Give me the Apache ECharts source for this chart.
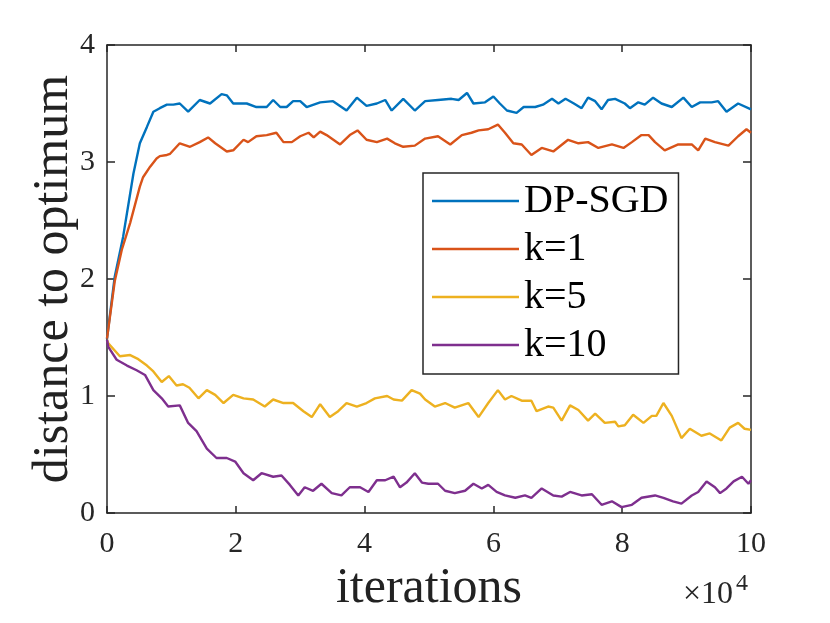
<!DOCTYPE html>
<html>
<head>
<meta charset="utf8"></meta>
<script src="https://cdn.jsdelivr.net/npm/echarts/dist/echarts.min.js"></script>
<style>
  body { margin: 0; background: #fff; }
  #main { width: 830px; height: 623px; }
</style>
</head>
<body>
<div id="main"></div>
<script type="text/javascript">
    // x is in units of 1e4 iterations, y is distance to optimum
    var seriesNames = ['DP-SGD', 'k=1', 'k=5', 'k=10'];
    var xTicks = [0, 2, 4, 6, 8, 10];
    var yTicks = [0, 1, 2, 3, 4];

    var dpsgd = [[0,1.49],[0.12,2.02],[0.25,2.36],[0.41,2.90],[0.51,3.16],[0.62,3.30],[0.72,3.43],[0.82,3.46],[0.93,3.49],[1.03,3.49],
        [1.13,3.50],[1.26,3.43],[1.44,3.53],[1.60,3.50],[1.78,3.58],[1.86,3.57],[1.96,3.50],[2.17,3.50],[2.32,3.47],[2.48,3.47],
        [2.58,3.53],[2.69,3.47],[2.79,3.47],[2.89,3.52],[3.0,3.52],[3.10,3.47],[3.31,3.51],[3.51,3.52],[3.72,3.44],[3.88,3.55],
        [4.03,3.48],[4.19,3.50],[4.32,3.53],[4.42,3.44],[4.60,3.54],[4.78,3.44],[4.94,3.52],[5.14,3.53],[5.35,3.54],[5.46,3.53],
        [5.59,3.59],[5.69,3.50],[5.87,3.51],[6.0,3.56],[6.10,3.50],[6.21,3.44],[6.36,3.42],[6.47,3.47],[6.65,3.47],[6.77,3.49],
        [6.91,3.54],[7.01,3.50],[7.12,3.54],[7.25,3.50],[7.37,3.46],[7.47,3.55],[7.58,3.52],[7.68,3.45],[7.78,3.53],[7.89,3.54],
        [8.04,3.50],[8.12,3.46],[8.25,3.51],[8.35,3.49],[8.48,3.55],[8.61,3.50],[8.77,3.47],[8.95,3.55],[9.08,3.47],[9.21,3.51],
        [9.39,3.51],[9.49,3.52],[9.62,3.43],[9.80,3.50],[10.0,3.45]];

    var k1 = [[0,1.49],[0.12,1.98],[0.23,2.25],[0.36,2.48],[0.51,2.79],[0.56,2.87],[0.67,2.96],[0.77,3.03],[0.82,3.05],[0.93,3.06],
        [0.98,3.07],[1.13,3.16],[1.29,3.13],[1.44,3.17],[1.57,3.21],[1.68,3.16],[1.86,3.09],[1.96,3.10],[2.12,3.19],[2.19,3.17],
        [2.32,3.22],[2.48,3.23],[2.63,3.25],[2.74,3.17],[2.87,3.17],[3.0,3.22],[3.13,3.25],[3.21,3.21],[3.31,3.26],[3.41,3.23],
        [3.62,3.15],[3.77,3.23],[3.89,3.27],[4.03,3.19],[4.19,3.17],[4.35,3.20],[4.47,3.16],[4.60,3.13],[4.78,3.14],[4.94,3.20],
        [5.14,3.22],[5.33,3.15],[5.51,3.23],[5.66,3.25],[5.77,3.27],[5.92,3.28],[6.07,3.32],[6.18,3.25],[6.31,3.16],[6.44,3.15],
        [6.59,3.06],[6.75,3.12],[6.93,3.09],[7.16,3.19],[7.32,3.16],[7.47,3.17],[7.63,3.12],[7.84,3.15],[8.02,3.12],[8.15,3.17],
        [8.30,3.23],[8.41,3.23],[8.51,3.17],[8.66,3.10],[8.87,3.15],[9.08,3.15],[9.18,3.10],[9.29,3.20],[9.44,3.17],[9.65,3.14],
        [9.80,3.22],[9.93,3.28],[10.0,3.25]];

    var k5 = [[0,1.48],[0.02,1.45],[0.20,1.34],[0.36,1.35],[0.47,1.32],[0.62,1.26],[0.72,1.21],[0.85,1.12],[0.96,1.17],[1.08,1.09],
        [1.18,1.10],[1.28,1.07],[1.42,0.98],[1.55,1.05],[1.68,1.01],[1.81,0.94],[1.96,1.01],[2.12,0.98],[2.27,0.97],[2.45,0.91],
        [2.58,0.97],[2.74,0.94],[2.89,0.94],[3.05,0.87],[3.18,0.82],[3.31,0.93],[3.46,0.82],[3.59,0.87],[3.72,0.94],[3.88,0.91],
        [4.03,0.94],[4.16,0.98],[4.35,1.00],[4.45,0.97],[4.58,0.96],[4.73,1.05],[4.86,1.02],[4.94,0.97],[5.09,0.91],[5.25,0.94],
        [5.40,0.90],[5.61,0.94],[5.77,0.82],[5.92,0.94],[6.07,1.05],[6.18,0.97],[6.28,1.00],[6.44,0.96],[6.59,0.96],[6.67,0.87],
        [6.85,0.91],[6.93,0.90],[7.06,0.79],[7.19,0.92],[7.32,0.88],[7.47,0.79],[7.58,0.85],[7.73,0.77],[7.89,0.78],[7.94,0.74],
        [8.04,0.75],[8.17,0.84],[8.33,0.77],[8.46,0.83],[8.53,0.83],[8.64,0.94],[8.77,0.83],[8.92,0.64],[9.05,0.72],[9.23,0.66],
        [9.36,0.68],[9.54,0.62],[9.67,0.73],[9.80,0.77],[9.90,0.72],[10.0,0.71]];

    var k10 = [[0,1.48],[0.02,1.42],[0.15,1.31],[0.31,1.26],[0.46,1.22],[0.59,1.18],[0.72,1.05],[0.85,0.98],[0.95,0.91],[1.13,0.92],
        [1.26,0.77],[1.39,0.70],[1.55,0.55],[1.70,0.47],[1.86,0.47],[1.99,0.44],[2.12,0.34],[2.27,0.28],[2.40,0.34],[2.58,0.31],
        [2.71,0.32],[2.84,0.24],[2.97,0.15],[3.07,0.22],[3.20,0.19],[3.33,0.25],[3.49,0.17],[3.64,0.15],[3.77,0.22],[3.93,0.22],
        [4.06,0.18],[4.19,0.28],[4.32,0.28],[4.45,0.31],[4.55,0.22],[4.65,0.26],[4.78,0.34],[4.89,0.26],[4.99,0.25],[5.14,0.25],
        [5.25,0.19],[5.40,0.17],[5.56,0.19],[5.69,0.25],[5.82,0.21],[5.92,0.24],[6.05,0.18],[6.18,0.15],[6.34,0.13],[6.49,0.15],
        [6.59,0.13],[6.75,0.21],[6.93,0.15],[7.06,0.14],[7.19,0.18],[7.37,0.15],[7.53,0.16],[7.68,0.07],[7.84,0.10],[7.99,0.05],
        [8.15,0.07],[8.30,0.13],[8.51,0.15],[8.64,0.13],[8.79,0.10],[8.92,0.08],[9.08,0.15],[9.18,0.18],[9.31,0.27],[9.44,0.22],
        [9.52,0.17],[9.62,0.21],[9.73,0.27],[9.86,0.31],[9.96,0.25],[10.0,0.28]];

    var colors = ['#0072BD', '#D95319', '#EDB120', '#7E2F8E'];
    var fontName = '"Liberation Serif", "Times New Roman", serif';
    var axisColor = '#262626';

    function makeSeries(name, data, color) {
        return {
            name: name,
            type: 'line',
            data: data,
            symbol: 'none',
            color: color,
            lineStyle: { width: 2.4, color: color },
            xAxisIndex: 0,
            yAxisIndex: 0
        };
    }

    function boxAxis(pos, min, max, step, isX) {
        return {
            type: 'value',
            position: pos,
            min: min, max: max, interval: step,
            axisLine: { show: true, onZero: false, lineStyle: { color: axisColor, width: 1.5 } },
            axisTick: { show: true, inside: true, length: isX ? 7 : 8, lineStyle: { color: axisColor, width: 1.5 } },
            axisLabel: { show: false },
            splitLine: { show: false }
        };
    }

    var myChart = echarts.init(document.getElementById('main'));
    var option = {
        animation: false,
        backgroundColor: '#fff',
        grid: { left: 107, top: 45, right: 79, bottom: 110, containLabel: false },
        xAxis: [
            {
                type: 'value',
                position: 'bottom',
                min: xTicks[0], max: xTicks[xTicks.length - 1], interval: 2,
                name: 'iterations',
                nameLocation: 'middle',
                nameGap: 51,
                nameTextStyle: { fontFamily: fontName, fontSize: 50, color: '#222' },
                axisLine: { show: true, onZero: false, lineStyle: { color: axisColor, width: 1.5 } },
                axisTick: { show: true, inside: true, length: 7, lineStyle: { color: axisColor, width: 1.5 } },
                axisLabel: { fontFamily: fontName, fontSize: 30, color: '#262626', margin: 16 },
                splitLine: { show: false }
            },
            boxAxis('top', xTicks[0], xTicks[xTicks.length - 1], 2, true)
        ],
        yAxis: [
            {
                type: 'value',
                position: 'left',
                min: yTicks[0], max: yTicks[yTicks.length - 1], interval: 1,
                axisLine: { show: true, onZero: false, lineStyle: { color: axisColor, width: 1.5 } },
                axisTick: { show: true, inside: true, length: 8, lineStyle: { color: axisColor, width: 1.5 } },
                axisLabel: { fontFamily: fontName, fontSize: 30, color: '#262626', margin: 12 },
                splitLine: { show: false }
            },
            boxAxis('right', yTicks[0], yTicks[yTicks.length - 1], 1, false)
        ],
        legend: {
            orient: 'vertical',
            left: 423,
            top: 173,
            data: seriesNames,
            icon: 'rect',
            itemWidth: 87,
            itemHeight: 2.5,
            itemGap: 8,
            itemTextGap: 7,
            padding: [8, 10, 9, 9],
            borderColor: axisColor,
            borderWidth: 1.5,
            borderRadius: 0,
            backgroundColor: '#fff',
            textStyle: { fontFamily: fontName, fontSize: 40, color: '#000', lineHeight: 40 }
        },
        graphic: [
            {
                type: 'text',
                x: 54,
                y: 279,
                rotation: Math.PI / 2,
                style: {
                    text: 'distance to optimum',
                    font: '50px ' + fontName,
                    fill: '#222',
                    align: 'center', verticalAlign: 'middle'
                }
            },
            {
                type: 'text',
                x: 683,
                y: 611,
                style: {
                    text: '×10', font: '32px ' + fontName, fill: '#262626',
                    align: 'left', verticalAlign: 'bottom'
                }
            },
            {
                type: 'text',
                x: 736,
                y: 596,
                style: {
                    text: '4', font: '24px ' + fontName, fill: '#262626',
                    align: 'left', verticalAlign: 'bottom'
                }
            }
        ],
        series: [
            makeSeries(seriesNames[0], dpsgd, colors[0]),
            makeSeries(seriesNames[1], k1, colors[1]),
            makeSeries(seriesNames[2], k5, colors[2]),
            makeSeries(seriesNames[3], k10, colors[3])
        ]
    };
    myChart.setOption(option);
</script>
</body>
</html>
